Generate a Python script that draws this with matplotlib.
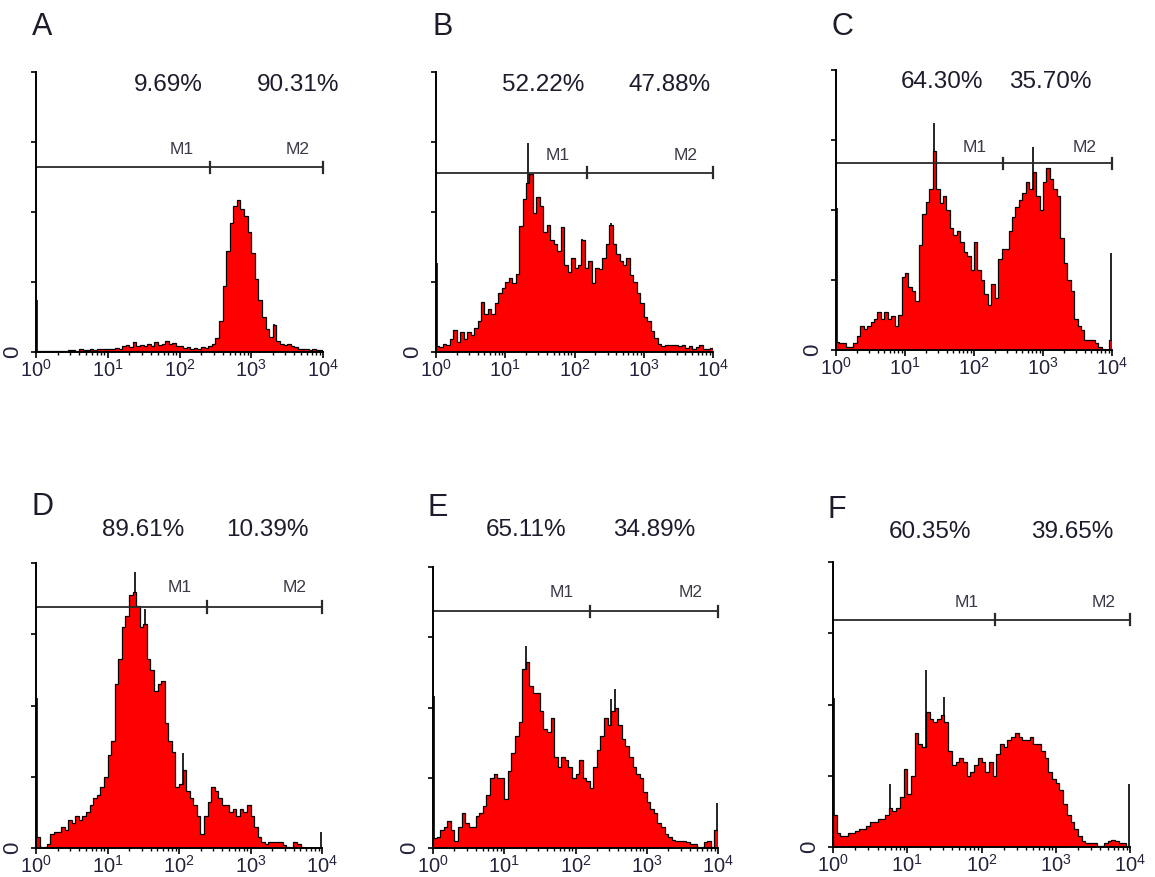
import numpy as np
import matplotlib
matplotlib.use("Agg")
import matplotlib.pyplot as plt
from matplotlib import font_manager

plt.rcParams['font.family'] = ['Liberation Sans', 'DejaVu Sans']
plt.rcParams['mathtext.fontset'] = 'custom'
_names = {f.name for f in font_manager.fontManager.ttflist}
narrow = 'Liberation Sans Narrow' if 'Liberation Sans Narrow' in _names else 'Liberation Sans'
plt.rcParams['mathtext.rm'] = narrow

# ---------------- data ----------------
panel_names = ["A", "B", "C", "D", "E", "F"]
bin_width_decades = 0.05          # histogram channel width (log10 units), 80 bins over 10^0..10^4

counts_A = [0.02,0.01,0.02,0.01,0.02,0.02,0.01,0.02,0.02,0.03,
            0.03,0.02,0.04,0.03,0.03,0.04,0.03,0.05,0.04,0.04,
            0.05,0.04,0.06,0.05,0.08,0.10,0.07,0.14,0.09,0.10,
            0.08,0.12,0.09,0.14,0.10,0.12,0.16,0.11,0.13,0.09,
            0.08,0.06,0.07,0.05,0.06,0.05,0.07,0.06,0.09,0.12,
            0.20,0.45,0.95,1.45,1.85,2.08,2.17,2.05,1.95,1.72,
            1.42,1.05,0.75,0.50,0.33,0.22,0.38,0.16,0.12,0.10,
            0.12,0.08,0.07,0.05,0.05,0.04,0.03,0.04,0.03,0.03]
counts_B = [0.08,0.07,0.12,0.10,0.18,0.32,0.14,0.28,0.18,0.28,
            0.24,0.34,0.45,0.72,0.55,0.62,0.55,0.70,0.85,0.92,
            1.00,1.06,0.98,1.12,1.80,2.18,2.42,2.55,1.98,2.22,
            2.08,1.72,1.82,1.60,1.55,1.45,1.78,1.25,1.15,1.35,
            1.20,1.25,1.60,1.20,1.30,0.98,1.20,1.18,1.35,1.55,
            1.82,1.55,1.40,1.30,1.25,1.35,1.10,1.00,0.85,0.70,
            0.50,0.45,0.30,0.20,0.12,0.08,0.10,0.10,0.10,0.10,
            0.09,0.10,0.06,0.08,0.05,0.07,0.10,0.05,0.04,0.06]
counts_C = [0.12,0.10,0.10,0.05,0.04,0.10,0.20,0.35,0.30,0.35,
            0.40,0.45,0.55,0.45,0.55,0.45,0.48,0.35,0.50,1.05,
            1.10,0.90,0.85,0.70,1.50,1.95,2.12,2.30,2.85,2.30,
            2.10,2.20,2.00,1.75,1.65,1.70,1.55,1.40,1.35,1.15,
            1.55,1.15,1.00,0.80,0.65,0.95,0.75,1.30,1.45,1.45,
            1.70,1.90,2.05,2.15,2.25,2.40,2.30,2.55,2.20,2.00,
            2.40,2.60,2.45,2.30,2.20,1.60,1.25,1.00,0.85,0.45,
            0.35,0.28,0.15,0.15,0.15,0.10,0.05,0.02,0.00,0.15]
counts_D = [0.15,0.02,0.02,0.05,0.20,0.22,0.22,0.30,0.25,0.40,
            0.35,0.45,0.40,0.45,0.50,0.60,0.70,0.75,0.85,1.00,
            1.30,1.50,2.30,2.65,3.10,3.25,3.55,3.60,3.40,3.10,
            3.15,2.65,2.50,2.20,2.30,2.35,1.75,1.50,1.35,0.85,
            0.90,1.10,0.80,0.70,0.60,0.45,0.20,0.45,0.65,0.85,
            0.80,0.70,0.60,0.60,0.50,0.55,0.45,0.55,0.50,0.60,
            0.45,0.30,0.15,0.08,0.05,0.08,0.08,0.08,0.08,0.04,
            0.01,0.00,0.08,0.05,0.02,0.00,0.00,0.00,0.00,0.00]
counts_E = [0.14,0.15,0.25,0.30,0.38,0.25,0.10,0.30,0.50,0.35,
            0.30,0.30,0.45,0.50,0.60,0.75,1.00,1.05,1.00,1.00,
            0.70,1.10,1.35,1.60,1.80,2.55,2.65,2.30,2.20,2.20,
            1.95,1.70,1.65,1.85,1.30,1.15,1.30,1.25,1.15,1.00,
            1.05,1.25,1.00,0.95,0.85,1.15,1.40,1.60,1.85,1.75,
            1.95,2.00,1.75,1.55,1.45,1.30,1.15,1.05,1.00,0.80,
            0.65,0.55,0.50,0.35,0.30,0.20,0.15,0.12,0.10,0.10,
            0.10,0.08,0.05,0.05,0.02,0.02,0.08,0.10,0.02,0.25]
counts_F = [0.45,0.20,0.15,0.15,0.20,0.20,0.22,0.25,0.25,0.30,
            0.35,0.35,0.40,0.40,0.45,0.55,0.50,0.55,0.70,1.10,
            0.75,1.00,1.60,1.45,1.40,1.90,1.80,1.75,1.80,1.85,
            1.75,1.35,1.15,1.20,1.25,1.20,1.00,1.05,1.15,1.25,
            1.20,1.05,1.20,1.00,1.30,1.45,1.40,1.50,1.55,1.60,
            1.55,1.50,1.50,1.55,1.45,1.45,1.35,1.25,1.05,0.95,
            0.90,0.80,0.60,0.45,0.35,0.25,0.15,0.08,0.05,0.05,
            0.05,0.02,0.02,0.05,0.08,0.10,0.08,0.05,0.05,0.02]

# single-channel spikes: (log10 channel, height)
spikes_A = [(0.01, 0.74), (3.32, 0.40)]
spikes_B = [(0.01, 1.27), (1.33, 2.99), (2.11, 1.62), (2.52, 1.85)]
spikes_C = [(0.01, 2.03), (1.42, 3.24), (2.85, 2.90), (3.99, 1.39)]
spikes_D = [(0.01, 2.10), (1.38, 3.88), (1.53, 3.36), (2.05, 1.33), (3.99, 0.23)]
spikes_E = [(0.01, 2.17), (1.30, 2.88), (2.50, 2.12), (2.56, 2.26), (3.99, 0.64)]
spikes_F = [(0.01, 2.09), (1.25, 2.49), (1.50, 2.10), (0.77, 0.89), (3.99, 0.89)]

# gate M1 | M2 boundary (log10 channel) and gate-bar height
gate_split = [2.425, 2.18, 2.42, 2.39, 2.20, 2.18]
gate_level = [2.64, 2.56, 2.67, 3.38, 3.37, 3.19]
pct_M1 = ["9.69%", "52.22%", "64.30%", "89.61%", "65.11%", "60.35%"]
pct_M2 = ["90.31%", "47.88%", "35.70%", "10.39%", "34.89%", "39.65%"]
xtick_exponents = [0, 1, 2, 3, 4]
xtick_labels = [r"$\mathregular{10^{%d}}$" % k for k in xtick_exponents]

all_counts = [counts_A, counts_B, counts_C, counts_D, counts_E, counts_F]
all_spikes = [spikes_A, spikes_B, spikes_C, spikes_D, spikes_E, spikes_F]

# ---------------- layout (pixels) ----------------
W, H = 1155, 877
# x(10^0), x(10^4), y(top tick), y(baseline)
axes_px = [(36, 323, 72, 352), (436, 713, 72, 352), (836, 1112, 70, 350),
           (36, 322, 563, 848), (433, 718, 567, 848), (833, 1130, 562, 847)]
letter_px = [(42, 27), (443, 27), (842, 27), (43, 507), (438, 508), (837, 510)]
pct_px = [((168, 85), (298, 85)), ((543, 85), (670, 85)), ((942, 82), (1050, 82)),
          ((143, 530), (267, 530)), ((526, 530), (654, 530)), ((930, 532), (1072, 532))]
mlabel_pos = [((2.03, 2.89), (3.64, 2.89)), ((1.76, 2.81), (3.60, 2.81)),
              ((2.01, 2.90), (3.61, 2.90)), ((2.01, 3.65), (3.62, 3.65)),
              ((1.81, 3.63), (3.61, 3.63)), ((1.80, 3.43), (3.64, 3.43))]

fig = plt.figure(figsize=(W / 100, H / 100), dpi=100)
text_col = "#1c1c2c"
bar_col = "#2a2a2a"

for i, name in enumerate(panel_names):
    x0, x1, yt, yb = axes_px[i]
    ax = fig.add_axes([x0 / W, 1 - yb / H, (x1 - x0) / W, (yb - yt) / H])
    counts = np.array(all_counts[i])
    edges = 10 ** (np.arange(len(counts) + 1) * bin_width_decades)
    # spikes drawn underneath the fill so only the part above the histogram shows
    for (sx, sh) in all_spikes[i]:
        ax.vlines(10 ** sx, 0, sh, color="black", lw=1.2, zorder=1)
    ax.stairs(counts, edges, fill=True, color="#ff0000", zorder=2)
    ax.stairs(counts, edges, color="black", lw=0.9, zorder=3)

    ax.set_xscale("log")
    ax.set_xlim(1, 1e4)
    ax.set_ylim(0, 4)
    for s in ("top", "right"):
        ax.spines[s].set_visible(False)
    for s in ("left", "bottom"):
        ax.spines[s].set_linewidth(1.4)
        ax.spines[s].set_color("black")
        ax.spines[s].set_zorder(5)
    ax.set_xticks([10.0 ** k for k in xtick_exponents])
    ax.set_xticklabels(xtick_labels, fontsize=14.5, color="#22223a")
    ax.xaxis.set_minor_locator(matplotlib.ticker.LogLocator(base=10, subs=np.arange(2, 10)))
    ax.xaxis.set_minor_formatter(matplotlib.ticker.NullFormatter())
    ax.tick_params(axis="x", which="major", length=4, width=1.2, pad=1, colors="black",
                   labelcolor="#22223a")
    ax.tick_params(axis="x", which="minor", length=2.5, width=1.0)
    ax.set_yticks([0, 1, 2, 3, 4])
    ax.set_yticklabels(["0", "", "", "", ""], fontsize=16, rotation=90, va="center",
                       family=[narrow, 'DejaVu Sans'], color="#22223a")
    ax.tick_params(axis="y", which="major", length=3.5, width=1.2, pad=6)
    ax.patch.set_alpha(0)

    # gate bars
    g = 10 ** gate_split[i]
    lv = gate_level[i]
    t = 0.08
    ax.plot([1, g], [lv, lv], color=bar_col, lw=1.3, zorder=4, clip_on=False)
    ax.plot([g, 1e4], [lv, lv], color=bar_col, lw=1.3, zorder=4, clip_on=False)
    for xx in (g, 1e4):
        ax.plot([xx, xx], [lv - t, lv + t], color=bar_col, lw=1.6, zorder=4, clip_on=False)
    (m1x, m1y), (m2x, m2y) = mlabel_pos[i]
    ax.text(10 ** m1x, m1y, "M1", fontsize=12.5, color="#3a3a48", ha="center", va="center")
    ax.text(10 ** m2x, m2y, "M2", fontsize=12.5, color="#3a3a48", ha="center", va="center")

    lx, ly = letter_px[i]
    fig.text(lx / W, 1 - ly / H, name, fontsize=22, color=text_col, ha="center", va="center")
    (p1x, p1y), (p2x, p2y) = pct_px[i]
    fig.text(p1x / W, 1 - p1y / H, pct_M1[i], fontsize=17.5, color=text_col, ha="center", va="center")
    fig.text(p2x / W, 1 - p2y / H, pct_M2[i], fontsize=17.5, color=text_col, ha="center", va="center")

fig.savefig("out.png", dpi=100, facecolor="white")
